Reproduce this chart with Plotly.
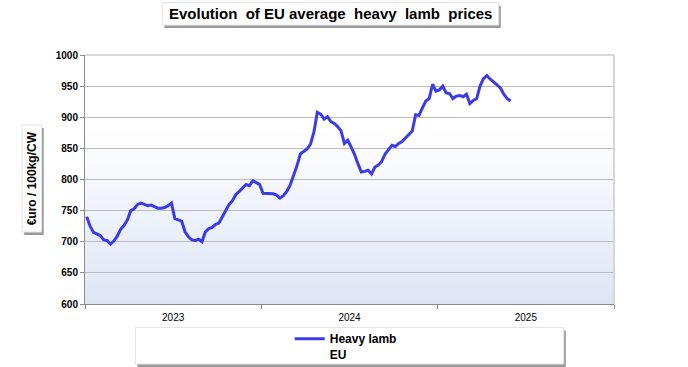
import plotly.graph_objects as go

# Weekly EU average heavy lamb price (euro / 100kg CW), 2023 week 1 onwards
weeks = list(range(1, 127))
prices = [
    740, 725, 715, 713, 710, 703, 702, 696, 701, 709,
    720, 726, 735, 750, 753, 760, 762, 760, 758, 759,
    757, 754, 754, 755, 758, 762, 737, 735, 733, 716,
    708, 703, 702, 704, 700, 716, 721, 723, 728, 730,
    740, 750, 760, 766, 776, 781, 786, 792, 790, 798,
    795, 792, 778, 778, 777, 777, 775, 770, 774, 781,
    791, 806, 822, 841, 845, 849, 857, 876, 908, 905,
    897, 901, 893, 890, 885, 878, 858, 863, 852, 840,
    825, 812, 813, 815, 809, 820, 823, 829, 841, 849,
    855, 853, 858, 861, 867, 873, 878, 904, 903, 915,
    926, 930, 953, 942, 944, 950, 939, 938, 930, 934,
    935, 933, 937, 922, 927, 930, 950, 962, 967, 961,
    957, 952, 947, 937, 930, 926,
]
year_labels = ["2023", "2024", "2025"]
weeks_per_year = 52
series_name = "<b>Heavy lamb<br>EU</b>"

x_pos = [w - 0.5 for w in weeks]
year_bounds = [i * weeks_per_year for i in range(len(year_labels) + 1)]
year_centers = [(i + 0.5) * weeks_per_year for i in range(len(year_labels))]

FONT = "Arial, Liberation Sans, sans-serif"

fig = go.Figure()
fig.add_trace(go.Scatter(
    x=x_pos, y=prices, mode="lines", name=series_name,
    line=dict(color="#3b3be8", width=3),
    showlegend=True,
))

shapes = []
# gradient plot background
n_bands = 30
top_frac = 0.72
c0 = (222, 229, 245)
for i in range(n_bands):
    t = i / (n_bands - 1)
    col = tuple(int(round(c0[k] + (255 - c0[k]) * t)) for k in range(3))
    shapes.append(dict(type="rect", xref="x domain", yref="y domain",
                       x0=0, x1=1, y0=top_frac * i / n_bands,
                       y1=top_frac * (i + 1) / n_bands + 0.002,
                       fillcolor="rgb(%d,%d,%d)" % col, line=dict(width=0),
                       layer="below"))
# top and right frame
shapes.append(dict(type="line", xref="x domain", yref="y domain", x0=0, x1=1,
                   y0=1, y1=1, line=dict(color="#d6d6d6", width=2)))
shapes.append(dict(type="line", xref="x domain", yref="y domain", x0=1, x1=1,
                   y0=0, y1=1, line=dict(color="#d6d6d6", width=2)))

def box(x0, x1, y0, y1, sx=0.004, sy=0.012):
    shapes.append(dict(type="rect", xref="paper", yref="paper",
                       x0=x0 + sx, x1=x1 + sx, y0=y0 - sy, y1=y1 - sy,
                       fillcolor="#9a9a9a", line=dict(width=0), layer="below"))
    shapes.append(dict(type="rect", xref="paper", yref="paper",
                       x0=x0, x1=x1, y0=y0, y1=y1,
                       fillcolor="white", line=dict(color="#e2e2e2", width=1),
                       layer="below"))

# title box
box(0.146, 0.782, 1.12, 1.21)
# y-axis title box
box(-0.119, -0.082, 0.289, 0.719)
# legend box
box(0.095, 0.905, -0.241, -0.094)

fig.update_layout(
    width=688, height=367,
    margin=dict(l=85, r=74, t=55, b=63, autoexpand=False),
    paper_bgcolor="white", plot_bgcolor="white",
    font=dict(family=FONT, color="black"),
    shapes=shapes,
    showlegend=True,
    legend=dict(x=0.387, y=-0.082, xanchor="left", yanchor="top",
                bgcolor="rgba(0,0,0,0)", valign="top",
                font=dict(size=12, family=FONT),
                itemwidth=30),
    annotations=[
        dict(text="<b>Evolution  of EU average  heavy  lamb  prices</b>",
             xref="paper", yref="paper", x=0.464, y=1.165,
             xanchor="center", yanchor="middle", showarrow=False,
             font=dict(size=15)),
        dict(text="<b>€uro / 100kg/CW</b>", textangle=-90,
             xref="paper", yref="paper", x=-0.1005, y=0.504,
             xanchor="center", yanchor="middle", showarrow=False,
             font=dict(size=12)),
    ],
)

fig.update_xaxes(
    range=[year_bounds[0], year_bounds[-1]],
    tickmode="array", tickvals=year_centers, ticktext=year_labels,
    ticks="outside", ticklen=4, tickcolor="rgba(0,0,0,0)",
    showgrid=False, zeroline=False,
    showline=True, linecolor="#8a8a8a", linewidth=1,
    tickprefix="<b>", ticksuffix="</b>",
    tickfont=dict(size=10, family=FONT),
    minor=dict(tickmode="array", tickvals=year_bounds, ticks="outside",
               ticklen=4, tickcolor="#8a8a8a", showgrid=False),
)
fig.update_yaxes(
    range=[600, 1000], dtick=50, tick0=600,
    showgrid=True, gridcolor="#bdbdbd", gridwidth=1, zeroline=False,
    showline=True, linecolor="#8a8a8a", linewidth=1,
    ticks="outside", ticklen=4, tickcolor="#8a8a8a",
    tickfont=dict(size=10, family=FONT),
    tickprefix="<b>", ticksuffix="</b>",
)

fig.write_html("out.html", config={"displayModeBar": False},
               post_script="document.body.style.margin='0';")
